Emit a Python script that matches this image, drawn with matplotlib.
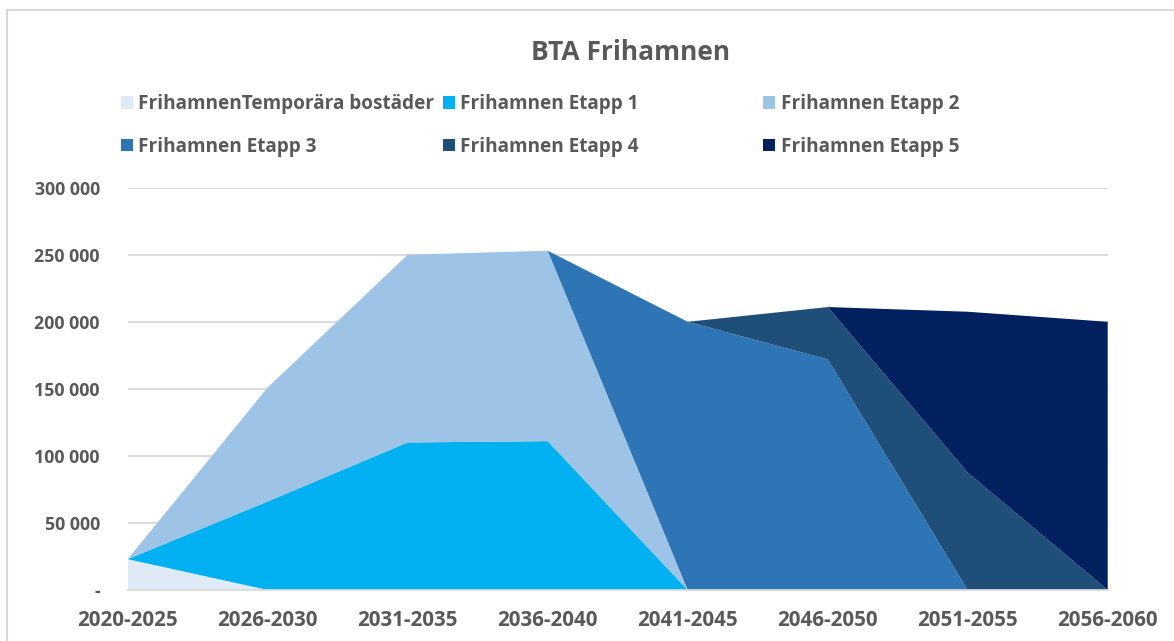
import matplotlib
matplotlib.use('Agg')
import matplotlib.pyplot as plt
from matplotlib.patches import Patch, Rectangle
from matplotlib.ticker import FuncFormatter

plt.rcParams['font.family'] = ['Open Sans', 'DejaVu Sans']

categories = ['2020-2025', '2026-2030', '2031-2035', '2036-2040',
              '2041-2045', '2046-2050', '2051-2055', '2056-2060']
temp = [23000, 0, 0, 0, 0, 0, 0, 0]
etapp1 = [0, 66000, 110000, 111000, 0, 0, 0, 0]
etapp2 = [0, 85000, 140000, 142000, 0, 0, 0, 0]
etapp3 = [0, 0, 0, 0, 200000, 172000, 0, 0]
etapp4 = [0, 0, 0, 0, 0, 39000, 87500, 0]
etapp5 = [0, 0, 0, 0, 0, 0, 120000, 200000]
labels = ['FrihamnenTemporära bostäder', 'Frihamnen Etapp 1', 'Frihamnen Etapp 2',
          'Frihamnen Etapp 3', 'Frihamnen Etapp 4', 'Frihamnen Etapp 5']
colors = ['#DEEBF7', '#00B0F0', '#9DC3E6', '#2E75B6', '#1F4E79', '#002060']
yticks = [0, 50000, 100000, 150000, 200000, 250000, 300000]

W, H = 1174, 641
text_color = '#595959'
grid_color = '#D9D9D9'

fig = plt.figure(figsize=(W / 100, H / 100), dpi=100)
ax = fig.add_axes([127.7 / W, 1 - 590 / H, (1107.7 - 127.7) / W, (590 - 187.7) / H])

x = list(range(len(categories)))
ax.stackplot(x, temp, etapp1, etapp2, etapp3, etapp4, etapp5,
             colors=colors, linewidth=0)

ax.set_xlim(0, len(categories) - 1)
ax.set_ylim(0, 300000)
ax.set_yticks(yticks)
ax.yaxis.set_major_formatter(FuncFormatter(
    lambda v, pos: '-' if v == 0 else f'{int(v):,}'.replace(',', ' ')))
ax.set_xticks(x)
ax.set_xticklabels(categories)
ax.grid(axis='y', color=grid_color, linewidth=1.3)
ax.set_axisbelow(True)
for s in ['top', 'right', 'left']:
    ax.spines[s].set_visible(False)
ax.spines['bottom'].set_color(grid_color)
ax.spines['bottom'].set_linewidth(1.3)
ax.tick_params(axis='x', length=0, pad=14.5, labelsize=14.8, labelcolor=text_color)
ax.tick_params(axis='y', length=0, pad=20, labelsize=12.8, labelcolor=text_color)
for t in ax.get_xticklabels() + ax.get_yticklabels():
    t.set_fontweight('bold')

fig.text(631 / W, 1 - 52 / H, 'BTA Frihamnen', ha='center', va='center',
         fontsize=19, fontweight='bold', color=text_color)

# legend: three columns, two rows (row-major order like Excel)
handles = [Patch(facecolor=c, edgecolor='none') for c in colors]
col_x = [120.7, 442.7, 763]
yc = 1 - 125.5 / H
for i, cx in enumerate(col_x):
    leg = fig.legend([handles[i], handles[i + 3]], [labels[i], labels[i + 3]],
                     loc='center left', bbox_to_anchor=(cx / W, yc),
                     frameon=False, handlelength=0.63, handleheight=0.63,
                     handletextpad=0.29, labelspacing=1.2,
                     borderpad=0, borderaxespad=0,
                     prop={'size': 13.7, 'weight': 'bold'})
    for t in leg.get_texts():
        t.set_color(text_color)

fig.patches.append(Rectangle((7 / W, -0.1), 1.2, 1.1 - 10 / H, transform=fig.transFigure,
                             fill=False, edgecolor=grid_color, linewidth=1.5))

fig.savefig('out.png', dpi=100)
